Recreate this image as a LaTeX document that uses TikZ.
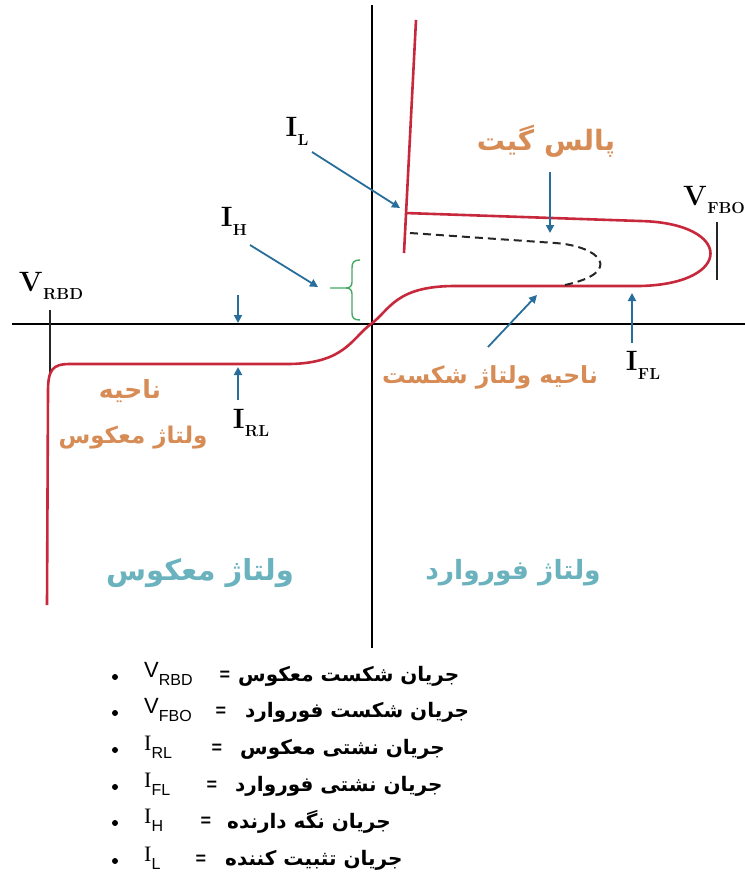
\documentclass[tikz,border=0pt]{standalone}
\usepackage{fontspec}
\newfontfamily\fa[Script=Arabic]{DejaVu Sans}
\newfontfamily\legsans{Liberation Sans}
\newfontfamily\legserif{Liberation Serif}
\TeXXeTstate=1
\usetikzlibrary{arrows.meta}
\definecolor{curvered}{RGB}{200,40,60}
\definecolor{arrowblue}{RGB}{40,110,155}
\definecolor{labelorange}{RGB}{215,140,85}
\definecolor{labelteal}{RGB}{105,178,190}
\definecolor{bracegreen}{RGB}{70,170,100}
\newcommand\mylab[2]{\textbf{#1}\kern0.3pt\raisebox{-0.32em}{\fontsize{16}{16}\selectfont\bfseries #2}}
\newcommand\legsym[3]{{#1#2}\raisebox{-0.35em}{\legsans\fontsize{16}{16}\selectfont #3}}
\begin{document}
\begin{tikzpicture}[x=1pt,y=-1pt,
  axis/.style={line width=2.4pt,black},
  curve/.style={line width=2.6pt,curvered,line join=round},
  tick/.style={line width=1.6pt,black!85},
  pointer/.style={line width=1.8pt,arrowblue,-{Triangle[length=8pt,width=8pt]}},
  biglab/.style={font=\fontsize{28}{28}\selectfont,inner sep=0pt},
  orangetxt/.style={text=labelorange,inner sep=0pt},
  tealtxt/.style={text=labelteal,inner sep=0pt},
  legtxt/.style={inner sep=0pt,anchor=west,font=\fa\bfseries\fontsize{20}{24}\selectfont},
  legsymb/.style={inner sep=0pt,anchor=west,font=\legsans\fontsize{22}{24}\selectfont},
  legeq/.style={inner sep=0pt,font=\legsans\bfseries\fontsize{18}{20}\selectfont},
  bullet/.style={circle,fill=black,inner sep=0pt,minimum size=6pt}]
\useasboundingbox[fill=white] (0,0) rectangle (745,880);

% axes
\draw[axis] (372,5) -- (372,648);
\draw[axis] (12,324) -- (745,324);

% ticks
\draw[tick] (50,310) -- (50,374);
\draw[tick] (717,222) -- (717,280);

% characteristic curve
\draw[curve] (416,20) -- (404,253);
\draw[curve] (405,213) -- (640,221) .. controls (734,223) and (734,284) .. (640,286)
  -- (455,286) .. controls (395,286) and (390,310) .. (371,324)
  .. controls (352,338) and (345,363) .. (290,364) -- (70,364)
  .. controls (52,364) and (48,370) .. (48,392) -- (47,605);
\draw[line width=2pt,black!85,dash pattern=on 8pt off 5pt]
  (410,233) -- (555,243) .. controls (600,246) and (625,272) .. (565,285);

% brace
\draw[line width=1.4pt,bracegreen] (360,260) .. controls (354,260) and (352,262) .. (352,268)
  -- (352,282) .. controls (352,286) and (350,288) .. (346,288) -- (330,288);
\draw[line width=1.4pt,bracegreen] (346,288) .. controls (350,288) and (352,290) .. (352,294)
  -- (352,313) .. controls (352,318) and (354,320) .. (360,320);

% labels
\node[biglab] (IL) at (297,131) {\mylab{I}{L}};
\node[biglab] (IH) at (234,221) {\mylab{I}{H}};
\node[biglab] (VRBD) at (51,286) {\mylab{V}{RBD}};
\node[biglab,anchor=west] (VFBO) at (683,200) {\mylab{V}{FBO}};
\node[biglab] (IRL) at (251,423) {\mylab{I}{RL}};
\node[biglab] (IFL) at (643,365) {\mylab{I}{FL}};

\node[orangetxt,font=\fa\bfseries\fontsize{28}{32}\selectfont] (gate) at (546,141) {\beginR پالس گیت\endR};
\node[orangetxt,font=\fa\bfseries\fontsize{23.5}{28}\selectfont] (bdreg) at (490,377) {\beginR ناحیه ولتاژ شکست\endR};
\node[orangetxt,font=\fa\bfseries\fontsize{25}{28}\selectfont] (revreg1) at (130,391) {\beginR ناحیه\endR};
\node[orangetxt,font=\fa\bfseries\fontsize{23}{28}\selectfont] (revreg2) at (133,438) {\beginR ولتاژ معکوس\endR};

\node[tealtxt,font=\fa\bfseries\fontsize{29}{34}\selectfont] (revv) at (200,573) {\beginR ولتاژ معکوس\endR};
\node[tealtxt,font=\fa\bfseries\fontsize{26.5}{34}\selectfont] (fwdv) at (513,573) {\beginR ولتاژ فوروارد\endR};

% arrow end points
\coordinate (ILa) at (312,152);  \coordinate (ILb) at (400,208);
\coordinate (IHa) at (250,245);  \coordinate (IHb) at (318,287);
\coordinate (Ga) at (550,172);   \coordinate (Gb) at (550,233);
\coordinate (RLa) at (238,295);  \coordinate (RLb) at (238,323);
\coordinate (RLc) at (238,400);  \coordinate (RLd) at (238,367);
\coordinate (BDa) at (488,347);  \coordinate (BDb) at (537,295);
\coordinate (FLa) at (632,343);  \coordinate (FLb) at (632,293);

\draw[pointer] (ILa) -- (ILb);
\draw[pointer] (IHa) -- (IHb);
\draw[pointer] (Ga) -- (Gb);
\draw[pointer] (RLa) -- (RLb);
\draw[pointer] (RLc) -- (RLd);
\draw[pointer] (BDa) -- (BDb);
\draw[pointer] (FLa) -- (FLb);

% legend
\node[bullet] (b1) at (115,677) {};
\node[bullet] (b2) at (115,713) {};
\node[bullet] (b3) at (115,750) {};
\node[bullet] (b4) at (115,787) {};
\node[bullet] (b5) at (115,823) {};
\node[bullet] (b6) at (115,861) {};

\node[legsymb] (s1) at (144,674) {\legsym{}{V}{RBD}};
\node[legsymb] (s2) at (144,710) {\legsym{}{V}{FBO}};
\node[legsymb] (s3) at (144,747) {\legsym{\legserif}{I}{RL}};
\node[legsymb] (s4) at (144,784) {\legsym{\legserif}{I}{FL}};
\node[legsymb] (s5) at (144,820) {\legsym{\legserif}{I}{H}};
\node[legsymb] (s6) at (144,858) {\legsym{\legserif}{I}{L}};

\node[legeq] (e1) at (225,676) {=};
\node[legeq] (e2) at (221,712) {=};
\node[legeq] (e3) at (217,749) {=};
\node[legeq] (e4) at (212,786) {=};
\node[legeq] (e5) at (206,822) {=};
\node[legeq] (e6) at (201,860) {=};

\node[legtxt] (t1) at (238,676) {\beginR جریان شکست معکوس\endR};
\node[legtxt] (t2) at (245,712) {\beginR جریان شکست فوروارد\endR};
\node[legtxt] (t3) at (240,749) {\beginR جریان نشتی معکوس\endR};
\node[legtxt] (t4) at (235,786) {\beginR جریان نشتی فوروارد\endR};
\node[legtxt] (t5) at (227,822) {\beginR جریان نگه دارنده\endR};
\node[legtxt] (t6) at (225,860) {\beginR جریان تثبیت کننده\endR};
\end{tikzpicture}
\end{document}
